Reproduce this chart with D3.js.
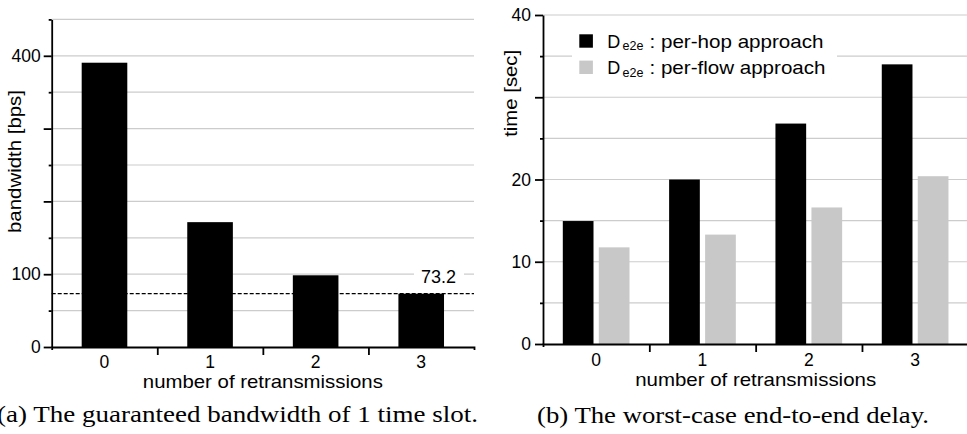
<!DOCTYPE html>
<html><head><meta charset="utf-8">
<script src="https://cdn.jsdelivr.net/npm/d3@7"></script>
<style>
html,body{margin:0;padding:0;background:#fff;overflow:hidden}
svg{display:block}
</style></head><body>
<svg id="c" width="967" height="434" font-family='"Liberation Sans",Arial,sans-serif'></svg>
<script>
// ---- data ----
const categories = ["0", "1", "2", "3"];
const bandwidthValues = [390.5, 171.5, 98.5, 73.2];
const thresholdValue = 73.2;
const thresholdLabel = "73.2";
const perHopValues = [14.95, 20.0, 26.8, 34.0];
const perFlowValues = [11.75, 13.3, 16.6, 20.4];
const seriesKeys = ["perHop", "perFlow"];
const seriesNames = ["per-hop approach", "per-flow approach"];
const seriesColors = ["#000000", "#c8c8c8"];
const leftTickLabels = [0, 100, 400];
const rightTickLabels = [0, 10, 20, 40];
const leftYTitle = "bandwidth [bps]";
const rightYTitle = "time [sec]";
const xTitle = "number of retransmissions";
const captionA = "(a) The guaranteed bandwidth of 1 time slot.";
const captionB = "(b) The worst-case end-to-end delay.";

const svg = d3.select("#c");
const SANS = '"Liberation Sans",Arial,sans-serif';
const SERIF = '"Liberation Serif","Times New Roman",serif';
const GRID = "#cccccc";
const AXW = 1.8;

function styleAxis(g, fs) {
  g.selectAll("path,line").attr("stroke", "#000").attr("stroke-width", AXW);
  g.selectAll("text").attr("font-size", fs).attr("font-family", SANS).attr("fill", "#000");
}

// ================= LEFT CHART =================
{
  const x0 = 51.7, x1 = 474, yTop = 19.4, yBot = 347;
  const y = d3.scaleLinear().domain([0, 450]).range([yBot, yTop]);
  const x = d3.scaleBand().domain(categories).range([x0, x1]);
  const xb = d3.scaleLinear().domain([0, categories.length]).range([x0, x1]);
  const g = svg.append("g");

  g.append("g").selectAll("line").data(d3.range(50, 451, 50)).join("line")
    .attr("x1", x0).attr("x2", x1).attr("y1", d => y(d)).attr("y2", d => y(d))
    .attr("stroke", GRID).attr("stroke-width", 1.2);

  g.append("rect").attr("x", 414).attr("y", y(100) - 6).attr("width", 50).attr("height", 12).attr("fill", "#fff");

  g.append("line").attr("x1", x0).attr("x2", x1)
    .attr("y1", y(thresholdValue)).attr("y2", y(thresholdValue))
    .attr("stroke", "#000").attr("stroke-width", 1.3).attr("stroke-dasharray", "4,2");

  const bw = x.bandwidth() * 0.432;
  g.append("g").selectAll("rect").data(bandwidthValues).join("rect")
    .attr("x", (d, i) => x(categories[i]) + (x.bandwidth() - bw) / 2)
    .attr("width", bw)
    .attr("y", d => y(d)).attr("height", d => yBot - y(d))
    .attr("fill", "#000");

  g.append("text").attr("x", 438.5).attr("y", 283.3).attr("text-anchor", "middle")
    .attr("font-size", 18).text(thresholdLabel);

  const ya = g.append("g").attr("transform", `translate(${x0},0)`)
    .call(d3.axisLeft(y).tickValues(d3.range(0, 401, 100)).tickSize(8).tickSizeOuter(0).tickPadding(3)
      .tickFormat(d => leftTickLabels.includes(d) ? d : ""));
  styleAxis(ya, 17.5);
  const ym = g.append("g").attr("transform", `translate(${x0},0)`)
    .call(d3.axisLeft(y).tickValues(d3.range(50, 451, 100)).tickSize(3).tickSizeOuter(0).tickFormat(""));
  ym.select(".domain").remove();
  styleAxis(ym, 17.5);

  const xa = g.append("g").attr("transform", `translate(0,${yBot})`)
    .call(d3.axisBottom(xb).tickValues(d3.range(1, categories.length)).tickSize(8).tickSizeOuter(3).tickFormat(""));
  styleAxis(xa, 17.5);
  g.append("g").selectAll("text").data(categories).join("text")
    .attr("x", d => x(d) + x.bandwidth() / 2).attr("y", yBot + 21)
    .attr("text-anchor", "middle").attr("font-size", 17.5).text(d => d);

  g.append("text").attr("x", (x0 + x1) / 2).attr("y", 387.7).attr("text-anchor", "middle")
    .attr("font-size", 19).attr("textLength", 240).attr("lengthAdjust", "spacingAndGlyphs").text(xTitle);
  g.append("text").attr("transform", "translate(21,161.5) rotate(-90)").attr("text-anchor", "middle")
    .attr("font-size", 19).attr("textLength", 143).attr("lengthAdjust", "spacingAndGlyphs").text(leftYTitle);

  svg.append("text").attr("x", -3).attr("y", 422).attr("font-family", SERIF)
    .attr("font-size", 23).attr("textLength", 481).attr("lengthAdjust", "spacingAndGlyphs").text(captionA);
}

// ================= RIGHT CHART =================
{
  const x0 = 543, x1 = 968.3, yTop = 15, yBot = 344;
  const y = d3.scaleLinear().domain([0, 40]).range([yBot, yTop]);
  const x = d3.scaleBand().domain(categories).range([x0, x1]);
  const xs = d3.scaleBand().domain(seriesKeys).range([19.8, 86.5]).paddingInner(0.147);
  const xb = d3.scaleLinear().domain([0, categories.length]).range([x0, x1]);
  const g = svg.append("g");

  g.append("g").selectAll("line").data(d3.range(5, 41, 5)).join("line")
    .attr("x1", x0).attr("x2", x1).attr("y1", d => y(d)).attr("y2", d => y(d))
    .attr("stroke", GRID).attr("stroke-width", 1.2);

  const rows = categories.map((c, i) => ({ c, perHop: perHopValues[i], perFlow: perFlowValues[i] }));
  g.append("g").selectAll("g").data(rows).join("g")
    .attr("transform", d => `translate(${x(d.c)},0)`)
    .selectAll("rect").data(d => seriesKeys.map((k, j) => ({ k, j, v: d[k] }))).join("rect")
    .attr("x", d => xs(d.k)).attr("width", xs.bandwidth())
    .attr("y", d => y(d.v)).attr("height", d => yBot - y(d.v))
    .attr("fill", d => seriesColors[d.j]);

  const lg = g.append("g");
  lg.append("rect").attr("x", 572).attr("y", 22).attr("width", 265).attr("height", 60).attr("fill", "#fff");
  seriesNames.forEach((name, j) => {
    const by = 47.7 + j * 26.3;
    lg.append("rect").attr("x", 579.3).attr("y", by - 13.4).attr("width", 13.6).attr("height", 13.4).attr("fill", seriesColors[j]);
    lg.append("text").attr("x", 607.3).attr("y", by).attr("font-size", 18).text("D");
    lg.append("text").attr("x", 622.5).attr("y", by + 2.6).attr("font-size", 12.5).text("e2e");
    lg.append("text").attr("x", 649.5).attr("y", by).attr("font-size", 18.5)
      .attr("textLength", j === 0 ? 174 : 176).attr("lengthAdjust", "spacingAndGlyphs").text(": " + name);
  });

  const ya = g.append("g").attr("transform", `translate(${x0},0)`)
    .call(d3.axisLeft(y).tickValues(d3.range(0, 41, 10)).tickSize(8).tickSizeOuter(0).tickPadding(4)
      .tickFormat(d => rightTickLabels.includes(d) ? d : ""));
  styleAxis(ya, 17.5);
  const ym = g.append("g").attr("transform", `translate(${x0},0)`)
    .call(d3.axisLeft(y).tickValues(d3.range(5, 41, 10)).tickSize(3).tickSizeOuter(0).tickFormat(""));
  ym.select(".domain").remove();
  styleAxis(ym, 17.5);

  const xa = g.append("g").attr("transform", `translate(0,${yBot})`)
    .call(d3.axisBottom(xb).tickValues(d3.range(1, categories.length)).tickSize(8).tickSizeOuter(3).tickFormat(""));
  styleAxis(xa, 17.5);
  g.append("g").selectAll("text").data(categories).join("text")
    .attr("x", d => x(d) + x.bandwidth() / 2).attr("y", yBot + 22)
    .attr("text-anchor", "middle").attr("font-size", 17.5).text(d => d);

  g.append("text").attr("x", (x0 + x1) / 2).attr("y", 385.5).attr("text-anchor", "middle")
    .attr("font-size", 19).attr("textLength", 241).attr("lengthAdjust", "spacingAndGlyphs").text(xTitle);
  g.append("text").attr("transform", "translate(517,93.3) rotate(-90)").attr("text-anchor", "middle")
    .attr("font-size", 19).attr("textLength", 87).attr("lengthAdjust", "spacingAndGlyphs").text(rightYTitle);

  svg.append("text").attr("x", 537).attr("y", 423).attr("font-family", SERIF)
    .attr("font-size", 23).attr("textLength", 392).attr("lengthAdjust", "spacingAndGlyphs").text(captionB);
}
</script>
</body></html>
